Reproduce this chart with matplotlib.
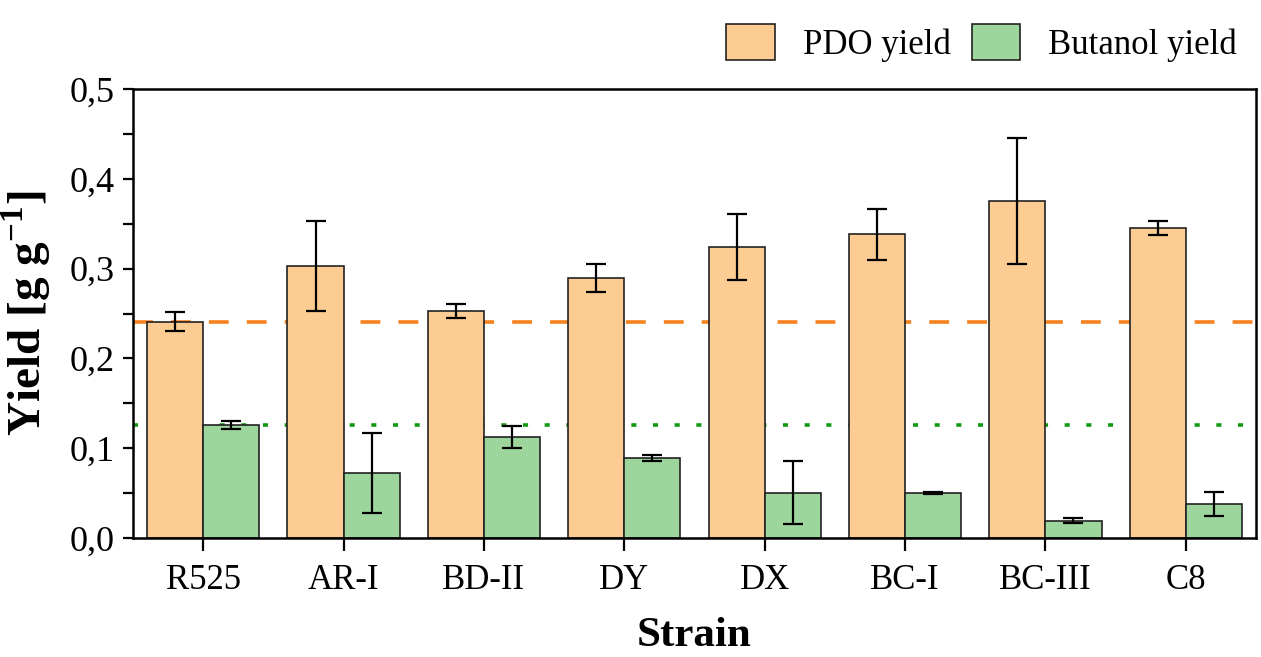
import numpy as np
import matplotlib
matplotlib.use('Agg')
import matplotlib.pyplot as plt
from matplotlib.ticker import MultipleLocator, FuncFormatter

plt.rcParams['font.family'] = ['Liberation Serif', 'DejaVu Serif']
plt.rcParams['mathtext.fontset'] = 'custom'
plt.rcParams['mathtext.rm'] = 'Liberation Serif'
plt.rcParams['mathtext.bf'] = 'Liberation Serif:bold'

# Data
strains = ["R525", "AR-I", "BD-II", "DY", "DX", "BC-I", "BC-III", "C8"]
pdo_yield = [0.241, 0.303, 0.253, 0.290, 0.324, 0.338, 0.375, 0.345]
pdo_err = [0.011, 0.050, 0.0076, 0.0155, 0.037, 0.0285, 0.070, 0.0078]
but_yield = [0.1256, 0.0725, 0.1122, 0.0895, 0.0505, 0.0498, 0.0193, 0.0375]
but_err = [0.0047, 0.045, 0.012, 0.0035, 0.035, 0.001, 0.003, 0.0133]
pdo_ref = 0.241   # R525 reference level (PDO)
but_ref = 0.126   # R525 reference level (butanol)

PDO_COLOR = '#FDCC92'
BUT_COLOR = '#9DD69C'

fig = plt.figure(figsize=(12.61, 6.57), dpi=100)
ax = fig.add_axes([0.1055, 0.1811, 0.8905, 0.6834])

x = np.arange(len(strains))
w = 0.4
ax.axhline(pdo_ref, color='#F5821F', lw=2.6, ls=(0, (5.5, 5.0)), zorder=1)
ax.axhline(but_ref, color='#119A11', lw=2.6, ls=(0, (1.4, 4.6)), zorder=1)

err_kw = dict(ecolor='black', elinewidth=1.6, capsize=7, capthick=1.6)
ax.bar(x - w / 2, pdo_yield, w, yerr=pdo_err, color=PDO_COLOR, edgecolor='#222222',
       linewidth=1.2, label='PDO yield', error_kw=err_kw, zorder=2)
ax.bar(x + w / 2, but_yield, w, yerr=but_err, color=BUT_COLOR, edgecolor='#222222',
       linewidth=1.2, label='Butanol yield', error_kw=err_kw, zorder=2)

ax.set_xlim(-0.5, len(strains) - 0.5)
ax.set_ylim(0, 0.5)
ax.set_xticks(x)
ax.set_xticklabels(strains, fontsize=25)
ax.yaxis.set_major_locator(MultipleLocator(0.1))
ax.yaxis.set_minor_locator(MultipleLocator(0.05))
ax.yaxis.set_major_formatter(FuncFormatter(lambda v, p: ('%.1f' % v).replace('.', ',')))
ax.tick_params(axis='y', which='both', direction='out', length=7, width=1.6, labelsize=26, pad=6)
ax.tick_params(axis='x', direction='out', length=9, width=1.6, pad=10)
for s in ax.spines.values():
    s.set_linewidth(1.8)

ax.set_ylabel('Yield [g g$^{\\mathbf{-1}}$]', fontsize=34, fontweight='bold', labelpad=12)
ax.set_xlabel('Strain', fontsize=31, fontweight='bold', labelpad=14)

ax.legend(loc='upper right', bbox_to_anchor=(1.0, 1.0), bbox_transform=fig.transFigure,
          ncol=2, frameon=False, fontsize=25, handlelength=1.4, handleheight=1.2,
          handletextpad=0.8, columnspacing=0.6, borderaxespad=0.3)

fig.savefig('out.png', dpi=100)
